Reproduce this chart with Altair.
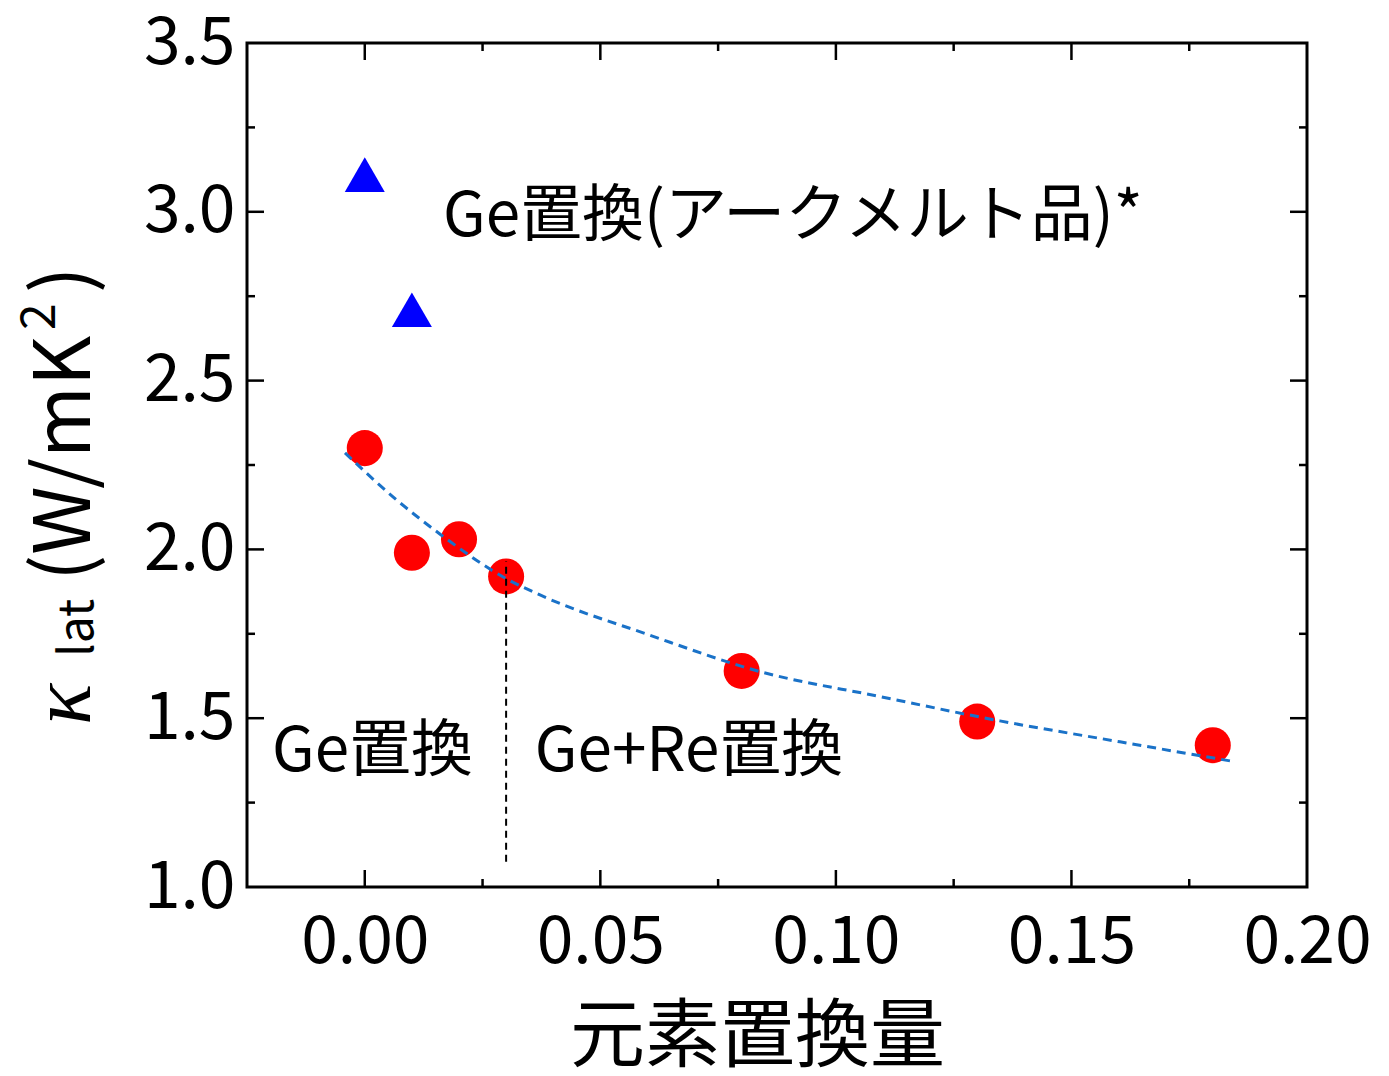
import altair as alt
import pandas as pd

FONT = "Noto Sans CJK JP"

# Ge / Ge+Re substituted samples: lattice thermal conductivity
sub_x = [0.00, 0.01, 0.02, 0.03, 0.08, 0.13, 0.18]
sub_k = [2.30, 1.99, 2.03, 1.92, 1.64, 1.49, 1.42]

# Ge substituted, arc-melted samples
arc_x = [0.00, 0.01]
arc_k = [3.11, 2.71]

# trend curve through the substituted samples
fit_x = [-0.0042, 0.0068, 0.016, 0.0302, 0.0372, 0.0605, 0.0839, 0.1094, 0.1348, 0.1603, 0.1847]
fit_k = [2.286, 2.146, 2.045, 1.912, 1.865, 1.746, 1.638, 1.564, 1.492, 1.430, 1.371]

# boundary between Ge-only and Ge+Re substitution
bound_x = [0.03, 0.03]
bound_k = [1.075, 1.965]

x_labels = [0.00, 0.05, 0.10, 0.15, 0.20]
y_labels = [1.0, 1.5, 2.0, 2.5, 3.0, 3.5]
x_major = [0.00, 0.05, 0.10, 0.15]
x_minor = [0.025, 0.075, 0.125, 0.175]
y_major = [1.5, 2.0, 2.5, 3.0]
y_minor = [1.25, 1.75, 2.25, 2.75, 3.25]

W, H = 1060, 844

xs = alt.Scale(domain=[-0.025, 0.2], nice=False, zero=False)
ys = alt.Scale(domain=[1.0, 3.5], nice=False, zero=False)

x_axis = alt.Axis(
    values=x_labels, format=".2f", ticks=False, domain=False, grid=False,
    labelFont=FONT, labelFontSize=66, labelColor="black", labelPadding=23,
    labelFlush=False, labelOverlap=False,
    title="元素置換量", titleFont=FONT, titleFontSize=75, titleFontWeight="normal",
    titleColor="black", titleX=510, titlePadding=26,
)
y_axis = alt.Axis(
    values=y_labels, format=".1f", ticks=False, domain=False, grid=False,
    labelFont=FONT, labelFontSize=66, labelColor="black", labelPadding=12,
    labelFlush=False, labelOverlap=False, title="",
)


def X(field="x"):
    return alt.X(f"{field}:Q", scale=xs, axis=x_axis)


def Y(field="y"):
    return alt.Y(f"{field}:Q", scale=ys, axis=y_axis)


sub_df = pd.DataFrame({"x": sub_x, "y": sub_k})
arc_df = pd.DataFrame({"x": arc_x, "y": arc_k})
fit_df = pd.DataFrame({"x": fit_x, "y": fit_k})
bound_df = pd.DataFrame({"x": bound_x, "y": bound_k})

circles = alt.Chart(sub_df).mark_point(
    shape="circle", filled=True, color="#ff0000", size=1300, opacity=1
).encode(x=X(), y=Y())

triangles = alt.Chart(arc_df).mark_point(
    shape="triangle-up", filled=True, color="#0000ff", size=1600, opacity=1
).encode(x=X(), y=Y())

fit_line = alt.Chart(fit_df).mark_line(
    color="#1a72c8", strokeWidth=3, strokeDash=[9, 6], interpolate="monotone"
).encode(x=X(), y=Y())

bound_line = alt.Chart(bound_df).mark_line(
    color="black", strokeWidth=2, strokeDash=[7, 5]
).encode(x=X(), y=Y())

# inward ticks on all four sides
xmaj = pd.DataFrame({"x": x_major})
xmin = pd.DataFrame({"x": x_minor})
ymaj = pd.DataFrame({"y": y_major})
ymin = pd.DataFrame({"y": y_minor})

tick_layers = []
for df, ln in ((xmaj, 17), (xmin, 8)):
    tick_layers.append(alt.Chart(df).mark_rule(color="black", strokeWidth=2.5).encode(
        x=X(), y=alt.value(H), y2=alt.value(H - ln)))
    tick_layers.append(alt.Chart(df).mark_rule(color="black", strokeWidth=2.5).encode(
        x=X(), y=alt.value(0), y2=alt.value(ln)))
for df, ln in ((ymaj, 17), (ymin, 8)):
    tick_layers.append(alt.Chart(df).mark_rule(color="black", strokeWidth=2.5).encode(
        y=Y(), x=alt.value(0), x2=alt.value(ln)))
    tick_layers.append(alt.Chart(df).mark_rule(color="black", strokeWidth=2.5).encode(
        y=Y(), x=alt.value(W), x2=alt.value(W - ln)))

# annotations
notes = pd.DataFrame({
    "x": [0.0166, -0.0197, 0.0361],
    "y": [2.985, 1.40, 1.40],
    "t": ["Ge置換(アークメルト品)*", "Ge置換", "Ge+Re置換"],
})
note_text = alt.Chart(notes).mark_text(
    font=FONT, fontSize=62, align="left", baseline="middle", color="black"
).encode(x=X(), y=Y(), text="t:N")


# rotated y-axis title: κ_lat (W/mK²)
def rot(text, px, py, size, font=FONT, style="normal"):
    return alt.Chart(pd.DataFrame({"t": [text]})).mark_text(
        font=font, fontSize=size, fontStyle=style, angle=270,
        align="left", baseline="alphabetic", color="black"
    ).encode(x=alt.value(px), y=alt.value(py), text="t:N")


ytitle = [
    rot("κ", -157, 682, 86, font="Liberation Serif", style="italic"),
    rot("lat", -154, 614, 48),
    rot("(W/mK", -157, 538, 78),
    rot("2", -192, 287, 48),
    rot(")", -157, 250, 78),
]

chart = alt.layer(
    circles, triangles, fit_line, bound_line, note_text, *tick_layers, *ytitle
).properties(
    width=W, height=H,
    padding={"left": 247, "top": 43, "right": 82, "bottom": 189},
    autosize=alt.AutoSizeParams(type="none"),
    background="white",
).configure_view(
    stroke="black", strokeWidth=3
)

chart.save("out.html", embed_options={"renderer": "svg", "actions": False})
